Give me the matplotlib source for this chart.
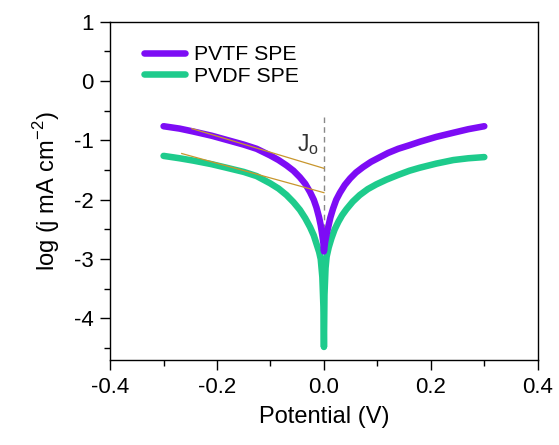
import numpy as np
import matplotlib.pyplot as plt
from matplotlib.ticker import MultipleLocator

plt.rcParams['font.family'] = ['Liberation Sans', 'DejaVu Sans']
plt.rcParams['axes.unicode_minus'] = False
plt.rcParams['mathtext.fontset'] = 'custom'
plt.rcParams['mathtext.rm'] = 'Liberation Sans'

# PVTF SPE polarization curve
pvtf_x = [-0.300, -0.270, -0.244, -0.210, -0.182, -0.150, -0.126, -0.101, -0.085, -0.070,
          -0.057, -0.045, -0.035, -0.026, -0.019, -0.014, -0.009, -0.006, -0.003, -0.001, 0.000,
          0.002, 0.005, 0.008, 0.012, 0.017, 0.023, 0.030, 0.039, 0.049, 0.060,
          0.073, 0.088, 0.105, 0.120, 0.139, 0.160, 0.180, 0.210, 0.242, 0.270, 0.300]
pvtf_y = [-0.76, -0.80, -0.85, -0.92, -0.99, -1.07, -1.14, -1.25, -1.33, -1.42,
          -1.51, -1.62, -1.73, -1.87, -2.00, -2.13, -2.30, -2.43, -2.60, -2.73, -2.87,
          -2.72, -2.58, -2.46, -2.30, -2.15, -2.00, -1.88, -1.75, -1.64, -1.54,
          -1.45, -1.36, -1.28, -1.21, -1.14, -1.08, -1.02, -0.94, -0.87, -0.81, -0.76]

# PVDF SPE polarization curve
pvdf_x = [-0.300, -0.270, -0.244, -0.210, -0.182, -0.150, -0.126, -0.101, -0.085, -0.070,
          -0.057, -0.045, -0.035, -0.026, -0.019, -0.014, -0.009, -0.006, -0.003, -0.001, 0.000,
          0.001, 0.003, 0.005, 0.009, 0.014, 0.020, 0.027, 0.034, 0.042, 0.054,
          0.067, 0.082, 0.098, 0.117, 0.139, 0.160, 0.179, 0.210, 0.242, 0.270, 0.300]
pvdf_y = [-1.26, -1.30, -1.34, -1.40, -1.46, -1.53, -1.60, -1.72, -1.81, -1.92,
          -2.04, -2.17, -2.31, -2.46, -2.60, -2.74, -2.88, -3.00, -3.30, -3.80, -4.48,
          -3.60, -3.15, -2.96, -2.80, -2.65, -2.50, -2.37, -2.26, -2.16, -2.03,
          -1.92, -1.82, -1.74, -1.66, -1.58, -1.51, -1.46, -1.39, -1.33, -1.30, -1.28]

# Tafel extrapolation lines
tafel1_x = [-0.247, 0.000]
tafel1_y = [-0.80, -1.47]
tafel2_x = [-0.266, 0.000]
tafel2_y = [-1.22, -1.88]

fig, ax = plt.subplots(figsize=(5.59, 4.45), dpi=100)
fig.subplots_adjust(left=0.197, right=0.962, bottom=0.191, top=0.951)

ax.plot([0, 0], [-0.6, -3.0], color='#888888', lw=1, ls=(0, (4, 3)), zorder=1)
ax.plot(pvdf_x, pvdf_y, color='#1ecb8c', lw=4.7, label='PVDF SPE', zorder=2,
        solid_capstyle='round')
ax.plot(pvtf_x, pvtf_y, color='#7d0cf5', lw=4.7, label='PVTF SPE', zorder=3,
        solid_capstyle='round')
ax.plot(tafel1_x, tafel1_y, color='#c8962d', lw=0.9, zorder=4)
ax.plot(tafel2_x, tafel2_y, color='#c8962d', lw=0.9, zorder=4)
ax.text(-0.029, -1.07, r'J$_\mathregular{o}$', fontsize=16.5, ha='center', va='center', color='#333333')

handles, labels = ax.get_legend_handles_labels()
ax.legend(handles[::-1], labels[::-1], loc='upper left', bbox_to_anchor=(0.035, 0.988), frameon=False,
          fontsize=15.3, handlelength=1.93, handletextpad=0.42, labelspacing=0.13)

ax.set_xlim(-0.4, 0.4)
ax.set_ylim(-4.7, 1)
ax.xaxis.set_major_locator(MultipleLocator(0.2))
ax.xaxis.set_minor_locator(MultipleLocator(0.1))
ax.yaxis.set_major_locator(MultipleLocator(1))
ax.yaxis.set_minor_locator(MultipleLocator(0.5))
ax.xaxis.set_major_formatter(plt.FuncFormatter(lambda v, p: f'{v:.1f}'))
ax.tick_params(which='major', direction='out', length=7, width=1, labelsize=16, pad=5,
               top=False, right=False)
ax.tick_params(which='minor', direction='out', length=4.5, width=1, top=False, right=False)
for s in ax.spines.values():
    s.set_linewidth(1)

ax.set_xlabel('Potential (V)', fontsize=17, labelpad=6)
ax.set_ylabel(r'log (j mA cm$^\mathregular{-2}$)', fontsize=17, labelpad=8)

plt.savefig('out.png', dpi=100)
